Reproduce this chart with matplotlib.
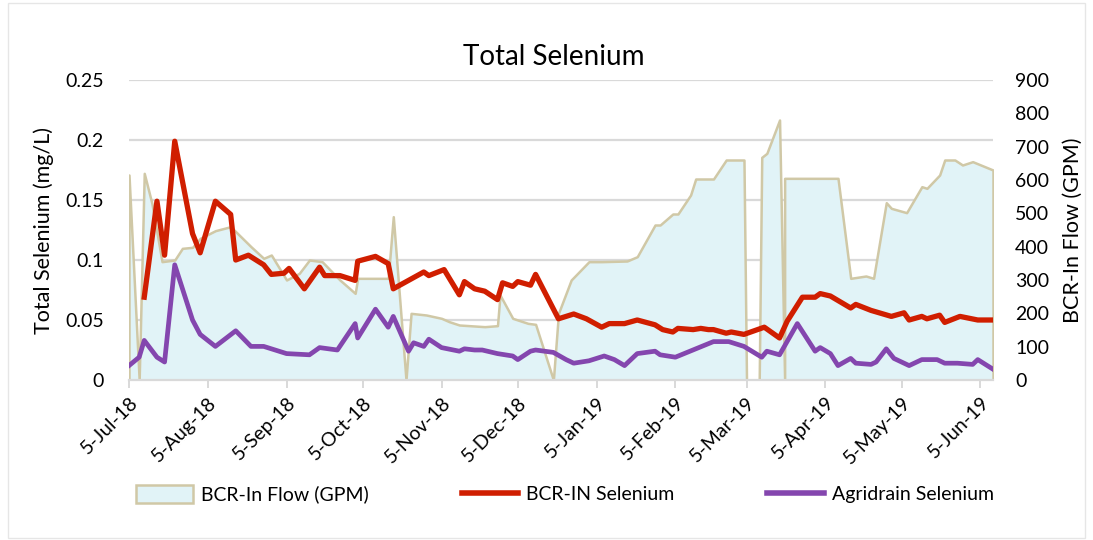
import pandas as pd
import matplotlib
matplotlib.use('Agg')
import matplotlib.pyplot as plt
import matplotlib.transforms as mtransforms
from matplotlib.patches import Patch, Rectangle
from matplotlib.lines import Line2D

plt.rcParams['font.family'] = ['Lato', 'DejaVu Sans']

# BCR-In flow (GPM), right axis
flow_dates = ["2018-07-05", "2018-07-09", "2018-07-11", "2018-07-14", "2018-07-18", "2018-07-23",
              "2018-07-26", "2018-07-30", "2018-08-02", "2018-08-08", "2018-08-14", "2018-08-22",
              "2018-08-27", "2018-08-30", "2018-09-05", "2018-09-10", "2018-09-14", "2018-09-19",
              "2018-09-26", "2018-10-02", "2018-10-03", "2018-10-15", "2018-10-17", "2018-10-22",
              "2018-10-24", "2018-10-30", "2018-11-05", "2018-11-08", "2018-11-12", "2018-11-22",
              "2018-11-27", "2018-11-28", "2018-12-03", "2018-12-09", "2018-12-12", "2018-12-19",
              "2018-12-21", "2018-12-24", "2018-12-26", "2019-01-02", "2019-01-07", "2019-01-17",
              "2019-01-21", "2019-01-28", "2019-01-30", "2019-02-04", "2019-02-06", "2019-02-11",
              "2019-02-13", "2019-02-20", "2019-02-25", "2019-03-04", "2019-03-05", "2019-03-10",
              "2019-03-11", "2019-03-13", "2019-03-18", "2019-03-20", "2019-03-20", "2019-04-10",
              "2019-04-15", "2019-04-21", "2019-04-24", "2019-04-29", "2019-05-01", "2019-05-07",
              "2019-05-13", "2019-05-15", "2019-05-20", "2019-05-22", "2019-05-26", "2019-05-29",
              "2019-06-02", "2019-06-10"]
flow_gpm = [615, 0, 620, 530, 355, 360, 395, 398, 425, 448, 460, 400,
            365, 375, 300, 320, 360, 355, 300, 260, 305, 305, 490, 0,
            200, 195, 185, 175, 165, 160, 163, 255, 185, 170, 167, 0,
            200, 260, 300, 355, 355, 357, 370, 465, 465, 498, 498, 555,
            603, 603, 660, 660, 0, 0, 668, 680, 780, 0, 605, 605,
            305, 312, 305, 532, 515, 502, 580, 575, 615, 660, 660, 645,
            655, 630]

# BCR-IN selenium (mg/L), left axis
bcr_dates = ["2018-07-11", "2018-07-16", "2018-07-19", "2018-07-23", "2018-07-30", "2018-08-02",
             "2018-08-08", "2018-08-14", "2018-08-16", "2018-08-21", "2018-08-27", "2018-08-30",
             "2018-09-04", "2018-09-06", "2018-09-12", "2018-09-18", "2018-09-20", "2018-09-26",
             "2018-10-02", "2018-10-03", "2018-10-10", "2018-10-15", "2018-10-17", "2018-10-29",
             "2018-10-31", "2018-11-06", "2018-11-12", "2018-11-14", "2018-11-18", "2018-11-22",
             "2018-11-27", "2018-11-29", "2018-12-03", "2018-12-05", "2018-12-10", "2018-12-12",
             "2018-12-21", "2018-12-27", "2019-01-01", "2019-01-07", "2019-01-10", "2019-01-16",
             "2019-01-21", "2019-01-28", "2019-01-31", "2019-02-04", "2019-02-06", "2019-02-12",
             "2019-02-15", "2019-02-18", "2019-02-20", "2019-02-25", "2019-02-27", "2019-03-04",
             "2019-03-12", "2019-03-18", "2019-03-21", "2019-03-27", "2019-04-01", "2019-04-03",
             "2019-04-07", "2019-04-15", "2019-04-17", "2019-04-23", "2019-05-01", "2019-05-06",
             "2019-05-08", "2019-05-13", "2019-05-15", "2019-05-20", "2019-05-22", "2019-05-28",
             "2019-06-04", "2019-06-10"]
bcr_se = [0.069, 0.149, 0.104, 0.199, 0.122, 0.106, 0.149, 0.138, 0.100, 0.104, 0.096, 0.088,
          0.089, 0.093, 0.076, 0.094, 0.087, 0.087, 0.083, 0.099, 0.103, 0.097, 0.076, 0.090,
          0.087, 0.092, 0.071, 0.082, 0.076, 0.074, 0.067, 0.081, 0.078, 0.082, 0.079, 0.088,
          0.051, 0.055, 0.051, 0.044, 0.047, 0.047, 0.050, 0.046, 0.042, 0.040, 0.043, 0.042,
          0.043, 0.042, 0.042, 0.039, 0.040, 0.038, 0.044, 0.035, 0.049, 0.069, 0.069, 0.072,
          0.070, 0.060, 0.063, 0.058, 0.053, 0.056, 0.050, 0.053, 0.051, 0.054, 0.048, 0.053,
          0.050, 0.050]

# Agridrain selenium (mg/L), left axis
agri_dates = ["2018-07-05", "2018-07-09", "2018-07-11", "2018-07-16", "2018-07-19", "2018-07-23",
              "2018-07-30", "2018-08-02", "2018-08-08", "2018-08-16", "2018-08-22", "2018-08-27",
              "2018-08-30", "2018-09-05", "2018-09-14", "2018-09-18", "2018-09-25", "2018-10-02",
              "2018-10-03", "2018-10-10", "2018-10-15", "2018-10-17", "2018-10-23", "2018-10-25",
              "2018-10-29", "2018-10-31", "2018-11-05", "2018-11-12", "2018-11-14", "2018-11-18",
              "2018-11-21", "2018-11-27", "2018-12-03", "2018-12-05", "2018-12-10", "2018-12-12",
              "2018-12-19", "2018-12-24", "2018-12-27", "2019-01-02", "2019-01-08", "2019-01-12",
              "2019-01-16", "2019-01-21", "2019-01-28", "2019-01-30", "2019-02-05", "2019-02-20",
              "2019-02-26", "2019-03-04", "2019-03-11", "2019-03-13", "2019-03-18", "2019-03-25",
              "2019-04-01", "2019-04-03", "2019-04-07", "2019-04-10", "2019-04-15", "2019-04-17",
              "2019-04-23", "2019-04-25", "2019-04-29", "2019-05-02", "2019-05-08", "2019-05-13",
              "2019-05-19", "2019-05-22", "2019-05-27", "2019-06-02", "2019-06-04", "2019-06-10"]
agri_se = [0.012, 0.019, 0.033, 0.019, 0.015, 0.096, 0.050, 0.038, 0.028, 0.041, 0.028, 0.028,
           0.026, 0.022, 0.021, 0.027, 0.025, 0.047, 0.035, 0.059, 0.044, 0.053, 0.024, 0.031,
           0.028, 0.034, 0.027, 0.024, 0.026, 0.025, 0.025, 0.022, 0.020, 0.017, 0.024, 0.025,
           0.023, 0.017, 0.014, 0.016, 0.020, 0.017, 0.012, 0.022, 0.024, 0.021, 0.019, 0.032,
           0.032, 0.028, 0.019, 0.024, 0.021, 0.047, 0.024, 0.027, 0.022, 0.012, 0.018, 0.014,
           0.013, 0.015, 0.026, 0.018, 0.012, 0.017, 0.017, 0.014, 0.014, 0.013, 0.017, 0.009]

left_ticks = [0, 0.05, 0.1, 0.15, 0.2, 0.25]
left_labels = ['0', '0.05', '0.1', '0.15', '0.2', '0.25']
right_ticks = list(range(0, 1000, 100))
x_ticks = ["2018-07-05", "2018-08-05", "2018-09-05", "2018-10-05", "2018-11-05", "2018-12-05",
           "2019-01-05", "2019-02-05", "2019-03-05", "2019-04-05", "2019-05-05", "2019-06-05"]

fill_col = '#E1F3F7'
edge_col = '#D0C8A6'
red = '#D01E00'
purple = '#8446AE'
grid_col = '#D9D9D9'

fd = pd.to_datetime(flow_dates)
bd = pd.to_datetime(bcr_dates)
ad = pd.to_datetime(agri_dates)

fig = plt.figure(figsize=(10.93, 5.40), dpi=100)
ax = fig.add_axes([129/1093, 1 - 380/540, (993-129)/1093, 300/540])
ax2 = ax.twinx()
ax.set_zorder(ax2.get_zorder() + 1)
ax.patch.set_visible(False)

# gridlines behind the flow area, at the left-axis ticks
for t in left_ticks[1:]:
    ax2.axhline(t * 900 / 0.25, color=grid_col, lw=1.6, zorder=0)

ax2.fill_between(fd, flow_gpm, 0, facecolor=fill_col, edgecolor=edge_col, lw=1.8, zorder=1)

ax.plot(bd, bcr_se, color=red, lw=3.8, solid_joinstyle='round', zorder=3)
ax.plot(ad, agri_se, color=purple, lw=3.4, solid_joinstyle='round', zorder=3)

xmin, xmax = pd.Timestamp("2018-07-05"), pd.Timestamp("2019-06-10")
ax.set_xlim(xmin, xmax)
ax.set_ylim(0, 0.25)
ax2.set_ylim(0, 900)

ax.set_yticks(left_ticks)
ax.set_yticklabels(left_labels)
ax2.set_yticks(right_ticks)

xt = pd.to_datetime(x_ticks)
ax.set_xticks(xt)
labels = ax.set_xticklabels([d.strftime('%-d-%b-%y') for d in xt], rotation=45, ha='right',
                            rotation_mode='anchor')
shift = mtransforms.ScaledTranslation(0.17, -0.03, fig.dpi_scale_trans)
for lab in labels:
    lab.set_transform(lab.get_transform() + shift)

for a in (ax, ax2):
    for s in ('top', 'right', 'left'):
        a.spines[s].set_visible(False)
    a.spines['bottom'].set_color(grid_col)
    a.spines['bottom'].set_linewidth(1.6)
ax2.spines['bottom'].set_visible(False)

ax.tick_params(axis='y', length=0, labelsize=14, pad=18, colors='#000000')
ax2.tick_params(axis='y', length=0, labelsize=14, pad=16)
ax.tick_params(axis='x', length=6, width=1.4, color=grid_col, labelsize=14, pad=4)

ax.set_ylabel('Total Selenium (mg/L)', fontsize=15.5, labelpad=8)
ax2.set_ylabel('BCR-In Flow (GPM)', fontsize=15.5, labelpad=10)

fig.text(554/1093, 1 - 57/540, 'Total Selenium', ha='center', va='center', fontsize=20)

handles = [Patch(facecolor=fill_col, edgecolor=edge_col, lw=1.8),
           Line2D([], [], color=red, lw=4),
           Line2D([], [], color=purple, lw=4)]
fig.legend(handles, ['BCR-In Flow (GPM)', 'BCR-IN Selenium', 'Agridrain Selenium'],
           loc='center', bbox_to_anchor=(565/1093, 1 - 494/540), ncol=3, frameon=False,
           fontsize=14, handlelength=2.9, handleheight=1.1, handletextpad=0.4,
           columnspacing=4.8)

fig.add_artist(Rectangle((8/1093, 0.004), 1 - 16/1093, 0.99, transform=fig.transFigure,
                         fill=False, edgecolor='#E6E6E6', lw=1))

plt.savefig('out.png', dpi=100)
plt.close()
